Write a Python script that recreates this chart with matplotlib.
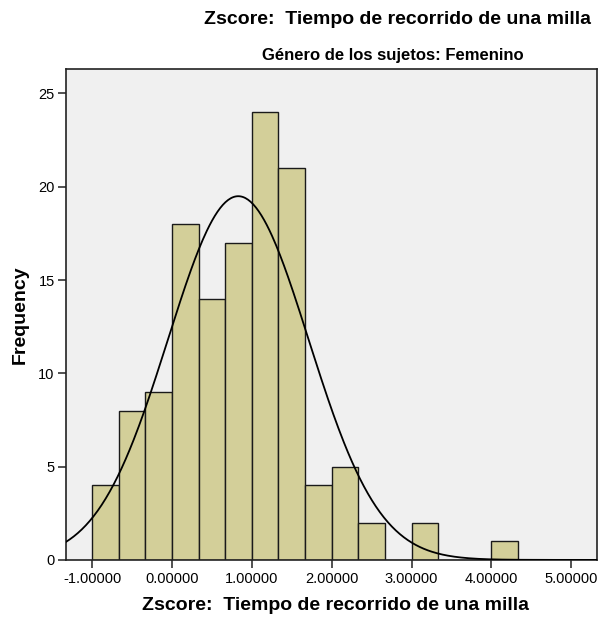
import numpy as np
import matplotlib
matplotlib.use("Agg")
import matplotlib.pyplot as plt

plt.rcParams['font.family'] = ['Liberation Sans', 'DejaVu Sans']

# histogram bins (width 1/3) and counts
bin_start = -1.0
bin_width = 1.0 / 3.0
counts = [4, 8, 9, 18, 14, 17, 24, 21, 4, 5, 2, 0, 2, 0, 0, 1]

# fitted normal curve parameters
curve_mean = 0.83
curve_std = 0.88

xticks = [-1, 0, 1, 2, 3, 4, 5]
yticks = [0, 5, 10, 15, 20, 25]

edges = bin_start + bin_width * np.arange(len(counts) + 1)
n_total = sum(counts)

fig = plt.figure(figsize=(5.98, 6.18), dpi=100)
ax = fig.add_axes([0.110, 0.094, 0.888, 0.794])
ax.set_facecolor('#F0F0F0')

ax.bar(edges[:-1], counts, width=bin_width, align='edge',
       color='#D3CF99', edgecolor='#1a1a1a', linewidth=1.0, zorder=2)

xs = np.linspace(-1.33, 5.32, 400)
ys = n_total * bin_width / (curve_std * np.sqrt(2 * np.pi)) * \
    np.exp(-0.5 * ((xs - curve_mean) / curve_std) ** 2)
ax.plot(xs, ys, color='black', linewidth=1.3, zorder=3)

ax.set_xlim(-1.33, 5.32)
ax.set_ylim(0, 26.3)
ax.set_xticks(xticks)
ax.set_xticklabels([f"{v:.5f}" for v in xticks])
ax.set_yticks(yticks)
ax.tick_params(axis='both', labelsize=10.5, length=6, width=1.1, color='#222222')
ax.tick_params(axis='x', pad=3)
ax.tick_params(axis='y', pad=2)
for s in ax.spines.values():
    s.set_linewidth(1.2)
    s.set_color('#222222')

ax.set_xlabel('Zscore:  Tiempo de recorrido de una milla',
              fontsize=14, fontweight='bold')
ax.xaxis.set_label_coords(0.507, -0.076)
ax.set_ylabel('Frequency', fontsize=14, fontweight='bold', labelpad=7)

fig.text(0.988, 0.968, 'Zscore:  Tiempo de recorrido de una milla',
         ha='right', va='center', fontsize=14, fontweight='bold')
fig.text(0.657, 0.910, 'Género de los sujetos: Femenino',
         ha='center', va='center', fontsize=12, fontweight='bold')

fig.savefig('out.png', dpi=100)
